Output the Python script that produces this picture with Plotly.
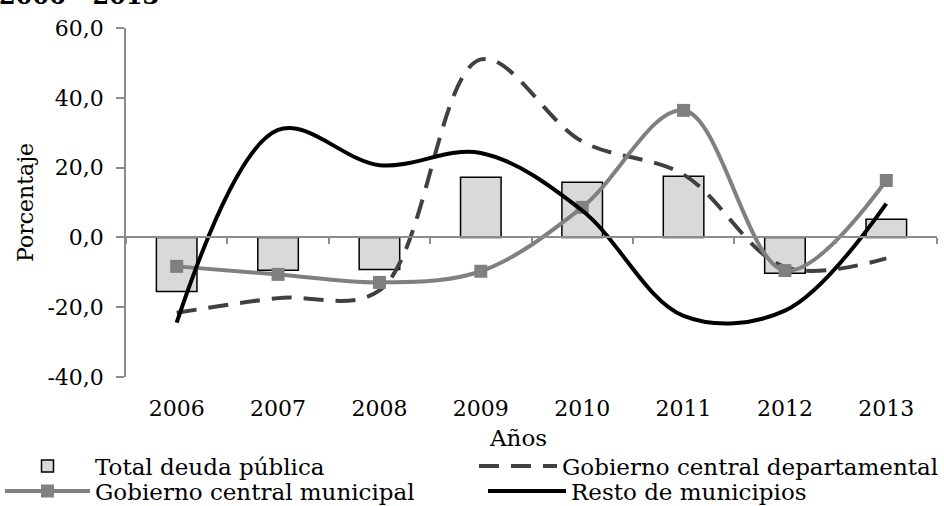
import plotly.graph_objects as go

# Data
years = ["2006", "2007", "2008", "2009", "2010", "2011", "2012", "2013"]
total_deuda = [-15.5, -9.4, -9.2, 17.2, 15.8, 17.5, -10.3, 5.2]
gob_departamental = [-21.6, -17.4, -15.2, 51.0, 27.5, 18.0, -8.5, -6.0]
gob_municipal = [-8.3, -10.6, -12.9, -9.7, 8.6, 36.4, -9.5, 16.3]
resto_municipios = [-24.4, 30.8, 20.7, 24.2, 7.7, -22.5, -21.0, 9.7]
y_ticks = [-40, -20, 0, 20, 40, 60]

FONT = "DejaVu Serif"
AXIS_GRAY = "#8c8c8c"

n = len(years)
boundaries = [i - 0.5 for i in range(n + 1)]
y_ticktext = [f"{v:.1f}".replace(".", ",") for v in y_ticks]

fig = go.Figure()

fig.add_trace(go.Bar(
    x=years, y=total_deuda, name="Total deuda pública", legend="legend",
    width=0.4, marker=dict(color="#d9d9d9", line=dict(color="black", width=1.5)),
))
fig.add_trace(go.Scatter(
    x=years, y=gob_departamental, name="Gobierno central departamental", legend="legend2",
    mode="lines", line=dict(color="#404040", width=4, dash="20px,12px", shape="spline", smoothing=1),
))
fig.add_trace(go.Scatter(
    x=years, y=gob_municipal, name="Gobierno central municipal", legend="legend3",
    mode="lines+markers", line=dict(color="#808080", width=4, shape="spline", smoothing=1),
    marker=dict(symbol="square", size=13, color="#808080"),
))
fig.add_trace(go.Scatter(
    x=years, y=resto_municipios, name="Resto de municipios", legend="legend4",
    mode="lines", line=dict(color="black", width=4, shape="spline", smoothing=1),
))
# invisible trace so the axis through zero gets drawn
fig.add_trace(go.Scatter(
    x=list(range(n)), y=total_deuda, xaxis="x2", mode="none",
    showlegend=False, hoverinfo="skip",
))


def legend_box(x, y, itemwidth):
    return dict(
        orientation="v", xref="paper", yref="container",
        x=x, y=y, xanchor="left", yanchor="middle",
        itemwidth=itemwidth, font=dict(size=23),
        bgcolor="rgba(0,0,0,0)", borderwidth=0,
    )


fig.update_layout(
    width=944, height=506,
    margin=dict(l=126, r=7, t=28, b=129),
    plot_bgcolor="white", paper_bgcolor="white",
    font=dict(family=FONT, size=22, color="black"),
    showlegend=True,
    xaxis=dict(
        type="category", range=[-0.5, n - 0.5], automargin=False,
        showline=False, showgrid=False, zeroline=False,
        ticks="outside", ticklen=12, tickcolor="rgba(0,0,0,0)",
        tickfont=dict(size=22),
    ),
    # axis line drawn through y = 0 with ticks at the category boundaries
    xaxis2=dict(
        overlaying="x", anchor="free", position=0.4, automargin=False,
        range=[-0.5, n - 0.5], tickvals=boundaries,
        showticklabels=False, showgrid=False, zeroline=False,
        showline=True, linecolor=AXIS_GRAY, linewidth=1.5,
        ticks="outside", ticklen=6, tickwidth=1.5, tickcolor=AXIS_GRAY,
    ),
    yaxis=dict(
        range=[-40, 60], tickvals=y_ticks, ticktext=y_ticktext, automargin=False,
        showline=True, linecolor=AXIS_GRAY, linewidth=1.5,
        ticks="outside", ticklen=8, tickwidth=1.5, tickcolor=AXIS_GRAY,
        ticklabelstandoff=8,
        showgrid=False, zeroline=False,
        tickfont=dict(size=22),
        title=dict(text="Porcentaje", font=dict(size=22), standoff=8),
    ),
    legend=legend_box(-0.1615, 1 - 466 / 506, 85),
    legend2=legend_box(0.4402, 1 - 466 / 506, 78),
    legend3=legend_box(-0.1615, 1 - 491 / 506, 85),
    legend4=legend_box(0.4402, 1 - 491 / 506, 78),
)

fig.add_annotation(
    text="Años", xref="paper", yref="paper", x=0.483, y=-0.175,
    xanchor="center", yanchor="middle", showarrow=False, font=dict(size=23),
)
fig.add_annotation(
    text="<b>2006 - 2013</b>", xref="paper", yref="paper", x=-0.159, y=1.045,
    xanchor="left", yanchor="bottom", showarrow=False, font=dict(size=24),
)

fig.write_html(
    "out.html",
    config={"displayModeBar": False},
    post_script="document.body.style.margin='0';",
)
